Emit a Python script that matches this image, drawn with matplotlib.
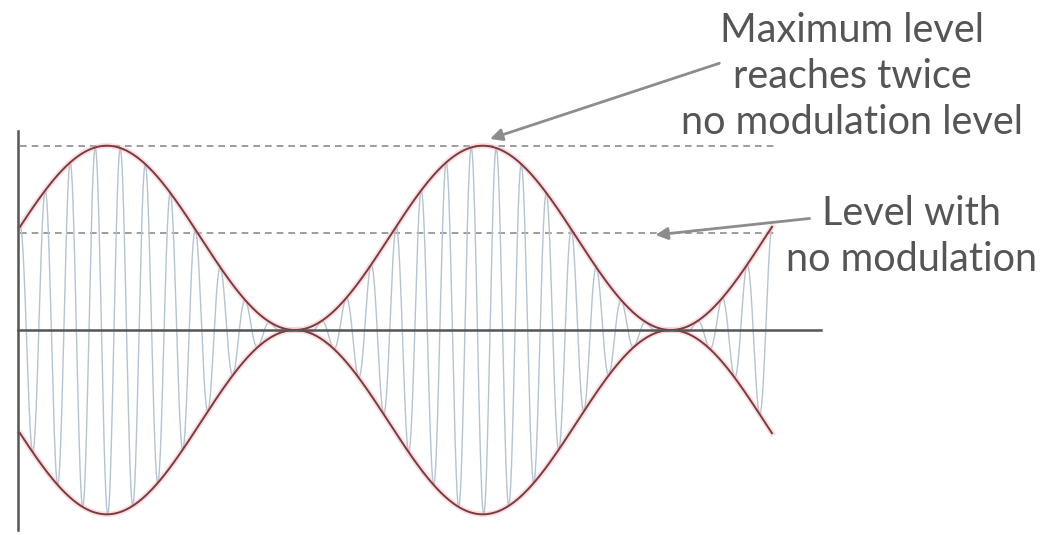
import numpy as np
import matplotlib.pyplot as plt

# modulation settings
mod_periods = 2.0          # two cycles of the modulating tone are shown
carrier_per_mod = 15       # carrier cycles in one modulation cycle
mod_phase = 0.12           # radians, envelope starts just past the carrier level
carrier_level = 0.95       # amplitude with no modulation (envelope centre)
no_mod_level = 1.0         # dashed line "level with no modulation"
max_level = 1.9            # dashed line at the envelope peak

labels = ["Maximum level\nreaches twice\nno modulation level",
          "Level with\nno modulation"]

t = np.linspace(0, mod_periods, 6000)
envelope = carrier_level * (1 + np.sin(2 * np.pi * t + mod_phase))
signal = envelope * np.cos(2 * np.pi * carrier_per_mod * t)

fig = plt.figure(figsize=(10.44, 5.35), dpi=100)
ax = fig.add_axes([0, 0, 1, 1])
ax.set_xlim(-0.0532, 2.7234)
ax.set_ylim(-2.113, 3.402)
ax.axis('off')

# carrier
ax.plot(t, signal, color='#b3c4d2', lw=1.0, zorder=2)

# envelope with a faint pink halo
for sign in (1, -1):
    ax.plot(t, sign * envelope, color='#f2b8be', lw=4, alpha=0.45, zorder=3)
    ax.plot(t, sign * envelope, color='#7e3a3e', lw=1.4, zorder=4)

# axes
ax.plot([-0.005, -0.005], [-2.06, 2.05], color='#555555', lw=1.8, zorder=5)
ax.plot([-0.005, 2.13], [0, 0], color='#555555', lw=1.8, zorder=5)

# reference levels
ax.plot([0, 2.01], [max_level, max_level], color='#8c8c8c', lw=1.2,
        ls=(0, (4, 3)), zorder=1)
ax.plot([0, 2.01], [no_mod_level, no_mod_level], color='#8c8c8c', lw=1.2,
        ls=(0, (4, 3)), zorder=1)

# annotations
arrow = dict(arrowstyle='-|>', color='#8c8c8c', lw=2, mutation_scale=18,
             shrinkA=0, shrinkB=0)
ax.annotate('', xy=(1.25, 1.97), xytext=(1.86, 2.75), arrowprops=arrow)
ax.annotate('', xy=(1.69, 0.98), xytext=(2.1, 1.15), arrowprops=arrow)

ax.text(2.214, 2.61, labels[0], ha='center', va='center', fontsize=28.5,
        color='#555555', family='Lato', linespacing=1.3)
ax.text(2.37, 0.96, labels[1], ha='center', va='center', fontsize=28.5,
        color='#555555', family='Lato', linespacing=1.3)

fig.savefig('out.png', dpi=100)
